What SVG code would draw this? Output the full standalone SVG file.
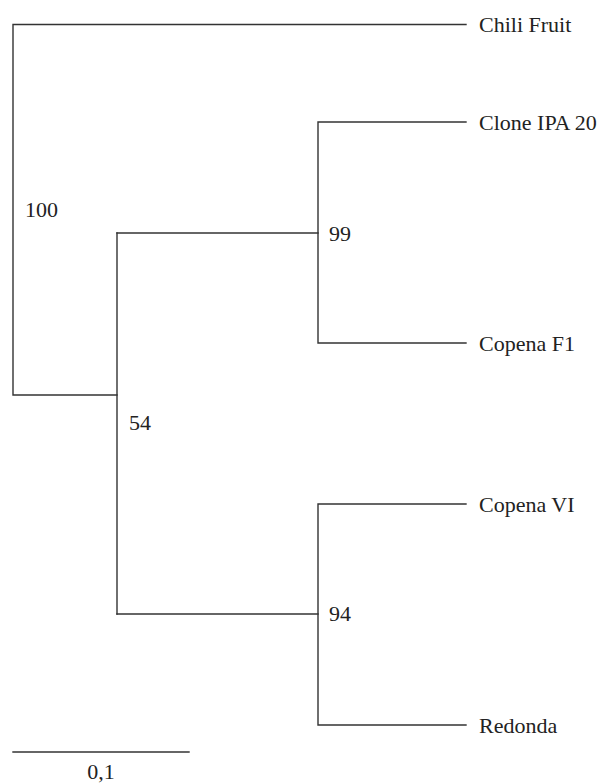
<svg xmlns="http://www.w3.org/2000/svg" width="603" height="784" viewBox="0 0 603 784">
<style>
.ln{stroke:#333;stroke-width:1.4;fill:none;stroke-linecap:square}
text{font-family:'Liberation Serif','DejaVu Serif','Times New Roman',serif;font-size:22px;fill:#222}
</style>
<rect width="603" height="784" fill="#fff"/>
<g id="connectors">
<path class="ln" d="M466,24.5 H13 V395 H117"/>
<path class="ln" d="M117,233 V614"/>
<path class="ln" d="M117,233 H318"/>
<path class="ln" d="M466,122 H318 V343 H466"/>
<path class="ln" d="M117,614 H318"/>
<path class="ln" d="M466,504 H318 V725 H466"/>
</g>
<g id="leaf-chili"><text x="479" y="32">Chili Fruit</text></g>
<g id="leaf-clone"><text x="479" y="130">Clone IPA 20</text></g>
<g id="leaf-copenaf1"><text x="479" y="351">Copena F1</text></g>
<g id="leaf-copenavi"><text x="479" y="512">Copena VI</text></g>
<g id="leaf-redonda"><text x="479" y="733">Redonda</text></g>
<g id="node-100"><text x="25" y="217">100</text></g>
<g id="node-99"><text x="329" y="241">99</text></g>
<g id="node-54"><text x="129" y="430">54</text></g>
<g id="node-94"><text x="329" y="621">94</text></g>
<g id="scale">
<path class="ln" d="M13,752 H189"/>
<text x="101" y="779" text-anchor="middle">0,1</text>
</g>
</svg>
